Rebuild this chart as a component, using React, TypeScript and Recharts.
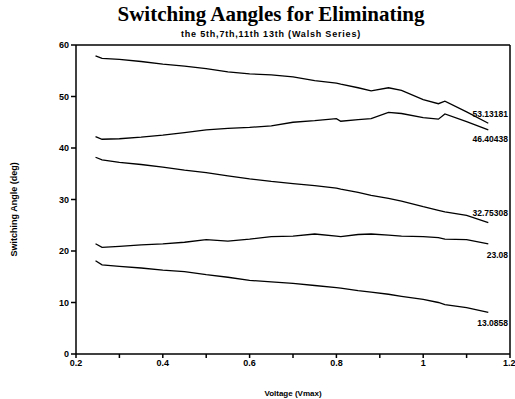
import React from "react";
import {
  LineChart,
  Line,
  XAxis,
  YAxis,
  ReferenceLine,
} from "recharts";

// voltage (Vmax) sample points
const voltage = [
  0.245, 0.26, 0.3, 0.35, 0.4, 0.45, 0.5, 0.55, 0.6, 0.65, 0.7, 0.75, 0.8,
  0.81, 0.85, 0.88, 0.92, 0.95, 1.0, 1.035, 1.05, 1.1, 1.15,
];

// switching angles (deg)
const alpha1 = [
  57.9, 57.4, 57.2, 56.8, 56.3, 55.9, 55.4, 54.8, 54.4, 54.2, 53.8, 53.1, 52.6,
  52.4, 51.7, 51.1, 51.7, 51.2, 49.4, 48.6, 49.1, 47.0, 44.8,
];
const alpha2 = [
  42.2, 41.7, 41.8, 42.1, 42.5, 43.0, 43.5, 43.8, 44.0, 44.3, 45.0, 45.3, 45.7,
  45.2, 45.5, 45.7, 46.9, 46.7, 45.9, 45.6, 46.6, 45.1, 43.5,
];
const alpha3 = [
  38.2, 37.7, 37.2, 36.8, 36.3, 35.7, 35.2, 34.6, 34.0, 33.5, 33.1, 32.7, 32.2,
  32.0, 31.4, 30.8, 30.2, 29.7, 28.6, 27.9, 27.6, 26.9, 25.5,
];
const alpha4 = [
  21.4, 20.7, 20.9, 21.2, 21.4, 21.7, 22.2, 21.9, 22.3, 22.8, 22.9, 23.3, 22.9,
  22.8, 23.2, 23.3, 23.1, 22.9, 22.8, 22.6, 22.3, 22.2, 21.4,
];
const alpha5 = [
  18.1, 17.3, 17.0, 16.7, 16.3, 16.0, 15.4, 14.9, 14.3, 14.0, 13.7, 13.3, 12.9,
  12.8, 12.3, 12.0, 11.6, 11.2, 10.6, 10.0, 9.6, 9.0, 8.1,
];

const endLabels = ["53.13181", "46.40438", "32.75308", "23.08", "13.0858"];

const xTicks = [0.2, 0.3, 0.4, 0.5, 0.6, 0.7, 0.8, 0.9, 1.0, 1.1, 1.2];
const yTicks = [0, 10, 20, 30, 40, 50, 60];

const data = voltage.map((v, i) => ({
  v,
  a1: alpha1[i],
  a2: alpha2[i],
  a3: alpha3[i],
  a4: alpha4[i],
  a5: alpha5[i],
}));

const series = [
  { key: "a1", text: endLabels[0], dy: -9 },
  { key: "a2", text: endLabels[1], dy: 10 },
  { key: "a3", text: endLabels[2], dy: -9 },
  { key: "a4", text: endLabels[3], dy: 12 },
  { key: "a5", text: endLabels[4], dy: 11 },
];

const FONT = "'Liberation Sans', Arial, sans-serif";

const xLabel = (v: number) => {
  const r = Math.round(v * 10);
  if (r % 2 !== 0) return "";
  return r === 10 ? "1" : r === 12 ? "1.2" : v.toFixed(1);
};

const App: React.FC = () => {
  const last = voltage.length - 1;
  return (
    <div
      style={{
        position: "absolute",
        left: 0,
        top: 0,
        width: 515,
        height: 399,
        background: "#fff",
      }}
    >
      {/* title */}
      <div
        style={{
          position: "absolute",
          left: 0,
          top: 2,
          width: 542,
          textAlign: "center",
          fontFamily: "'Liberation Serif', 'DejaVu Serif', serif",
          fontWeight: 700,
          fontSize: 21,
          color: "#000",
        }}
      >
        Switching Aangles for Eliminating
      </div>
      <div
        style={{
          position: "absolute",
          left: 0,
          top: 29,
          width: 542,
          textAlign: "center",
          fontFamily: FONT,
          fontWeight: 700,
          fontSize: 9,
          letterSpacing: 0.8,
          color: "#000",
        }}
      >
        the 5th,7th,11th 13th (Walsh Series)
      </div>

      <LineChart
        width={515}
        height={399}
        data={data}
        margin={{ top: 45, right: 5, bottom: 15, left: 36 }}
      >
        <XAxis
          dataKey="v"
          type="number"
          domain={[0.2, 1.2]}
          ticks={xTicks}
          tickFormatter={xLabel}
          allowDataOverflow
          stroke="#000"
          strokeWidth={1.5}
          tickSize={4}
          height={30}
          tick={{ fontSize: 9, fontWeight: 700, fill: "#000", fontFamily: FONT }}
          label={{
            value: "Voltage (Vmax)",
            position: "insideBottom",
            offset: -12,
            fontSize: 8,
            fontWeight: 700,
            fill: "#000",
            fontFamily: FONT,
          }}
        />
        <YAxis
          domain={[0, 60]}
          ticks={yTicks}
          stroke="#000"
          strokeWidth={1.5}
          tickSize={5}
          width={40}
          tick={{ fontSize: 9, fontWeight: 700, fill: "#000", fontFamily: FONT }}
          label={{
            value: "Switching Angle (deg)",
            angle: -90,
            position: "insideLeft",
            offset: -22,
            dy: 57,
            fontSize: 9,
            fontWeight: 700,
            fill: "#000",
            fontFamily: FONT,
          }}
        />
        <ReferenceLine y={60} stroke="#000" strokeWidth={1.5} />
        <ReferenceLine x={1.2} stroke="#000" strokeWidth={1.5} />

        {series.map((s) => (
          <Line
            key={s.key}
            dataKey={s.key}
            type="linear"
            stroke="#000"
            strokeWidth={1.3}
            dot={false}
            isAnimationActive={false}
            label={(p: any) =>
              p.index === last ? (
                <text
                  key={s.key + "-lbl"}
                  x={508}
                  y={p.y + s.dy}
                  textAnchor="end"
                  dominantBaseline="middle"
                  fontSize={8.5}
                  fontWeight={700}
                  fontFamily={FONT}
                  fill="#000"
                >
                  {s.text}
                </text>
              ) : (
                <g key={s.key + "-" + p.index} />
              )
            }
          />
        ))}
      </LineChart>
    </div>
  );
};

export default App;
